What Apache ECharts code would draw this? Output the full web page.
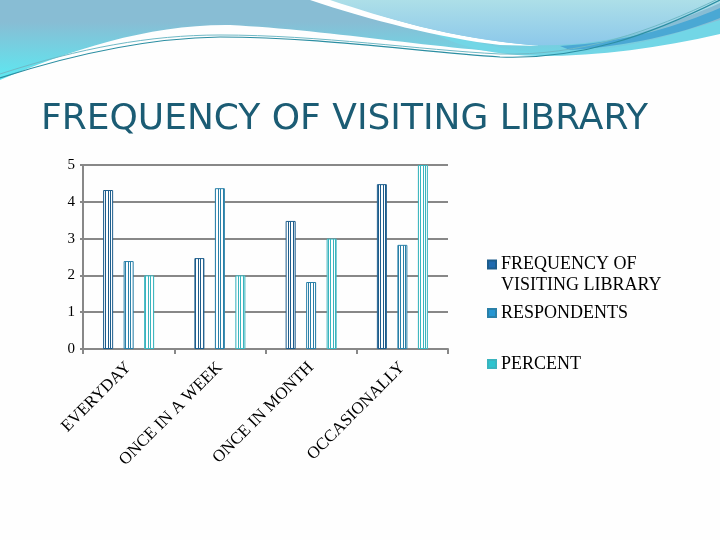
<!DOCTYPE html>
<html>
<head>
<meta charset="utf-8">
<script src="https://cdn.jsdelivr.net/npm/echarts@6/dist/echarts.min.js"></script>
<style>html,body{margin:0;padding:0;background:#fff;}#main{width:720px;height:540px;}</style>
</head>
<body>
<div id="main"></div>
<script>
const titleText = 'FREQUENCY OF VISITING LIBRARY';
const categories = ['EVERYDAY', 'ONCE IN A WEEK', 'ONCE IN MONTH', 'OCCASIONALLY'];
const seriesNames = ['FREQUENCY OF VISITING LIBRARY', 'RESPONDENTS', 'PERCENT'];
const frequencyValues = [4.32, 2.47, 3.48, 4.48];
const respondentsValues = [2.39, 4.37, 1.82, 2.83];
const percentValues = [2.0, 2.0, 3.0, 5.0];
const yTicks = [0, 1, 2, 3, 4, 5];

const lineColors = ['#1d5d8c', '#2a80a8', '#3ab4be'];
const legendColors = ['#1f6ab0', '#2596d2', '#2cc4cf'];

function stripe(color) {
  const c = document.createElement('canvas');
  c.width = 5; c.height = 4;
  const ctx = c.getContext('2d');
  ctx.fillStyle = '#ffffff';
  ctx.fillRect(0, 0, 5, 4);
  ctx.fillStyle = color;
  ctx.fillRect(0, 0, 1, 4);
  ctx.fillRect(3, 0, 1, 4);
  return { image: c, repeat: 'repeat' };
}

const chart = echarts.init(document.getElementById('main'), null, { renderer: 'canvas' });

const dataSets = [frequencyValues, respondentsValues, percentValues];

const legendFont = { fontFamily: 'Liberation Serif', fontSize: 18, color: '#000' };

function decoration() {
  return {
    type: 'group',
    children: [
      {
        type: 'path',
        shape: { pathData: 'M0,0 L720,0 L720,30 C660,45 600,54 540,54 C460,52 330,30 230,25 C150,24 70,50 0,80 Z' },
        style: {
          fill: new echarts.graphic.LinearGradient(0, 22, 0, 80, [
            { offset: 0, color: '#88bdd4' },
            { offset: 1, color: '#5ce9f2' }
          ], true)
        }
      },
      {
        type: 'path',
        shape: { pathData: 'M420,26 C480,45 520,54 560,53 C630,50 680,32 720,20 L720,34 C660,48 600,56 540,56 C500,55 460,50 420,26 Z' },
        style: { fill: '#72d6e6' }
      },
      {
        type: 'path',
        shape: { pathData: 'M310,0 C370,20 440,38 500,45 L540,46 C450,38 380,18 340,0 Z' },
        style: { fill: '#ffffff' }
      },
      {
        type: 'path',
        shape: { pathData: 'M330,0 C385,18 450,38 530,45 C610,48 670,25 720,3 L720,0 Z' },
        style: {
          fill: new echarts.graphic.LinearGradient(0, 0, 0, 1, [
            { offset: 0, color: '#addfe8' },
            { offset: 1, color: '#8cc8ea' }
          ])
        }
      },
      {
        type: 'path',
        shape: { pathData: 'M560,46 C630,42 680,25 720,8 L720,18 C680,34 630,46 570,50 Z' },
        style: { fill: '#4aa8d4' }
      },
      {
        type: 'path',
        shape: { pathData: 'M0,78 C80,52 150,38 220,37 C320,37 420,52 500,57 C580,60 650,35 720,0' },
        style: { fill: null, stroke: '#2b8ea2', lineWidth: 1.2 }
      },
      {
        type: 'path',
        shape: { pathData: 'M0,74 C80,48 150,35 220,35 C320,35 420,50 500,54 C580,56 650,32 720,-2' },
        style: { fill: null, stroke: '#6fb9c6', lineWidth: 1 }
      }
    ]
  };
}

const option = {
  backgroundColor: '#fefefe',
  animation: false,
  title: {
    text: titleText,
    left: 36, top: 97,
    textStyle: { fontFamily: 'DejaVu Sans', fontWeight: 'normal', fontSize: 36, color: '#1b5c74' }
  },
  legend: [
    {
      orient: 'vertical', left: 482, top: 228,
      itemWidth: 8, itemHeight: 8, itemGap: 0,
      icon: 'rect',
      data: [{ name: seriesNames[0], itemStyle: { color: legendColors[0] } }],
      formatter: function () { return ' \nFREQUENCY OF\nVISITING LIBRARY'; },
      textStyle: Object.assign({ lineHeight: 21 }, legendFont)
    },
    {
      orient: 'vertical', left: 482, top: 299,
      itemWidth: 8, itemHeight: 8,
      icon: 'rect',
      data: [{ name: seriesNames[1], itemStyle: { color: legendColors[1] } }],
      textStyle: legendFont
    },
    {
      orient: 'vertical', left: 482, top: 350,
      itemWidth: 8, itemHeight: 8,
      icon: 'rect',
      data: [{ name: seriesNames[2], itemStyle: { color: legendColors[2] } }],
      textStyle: legendFont
    }
  ],
  grid: { left: 83, right: 272, top: 165, bottom: 191, containLabel: false },
  xAxis: {
    type: 'category',
    data: categories,
    axisLine: { lineStyle: { color: '#888', width: 2 } },
    axisTick: { show: true, length: 5, lineStyle: { color: '#888', width: 2 } },
    axisLabel: {
      rotate: 45, margin: 16, interval: 0,
      fontFamily: 'Liberation Serif', fontSize: 17, color: '#000'
    }
  },
  yAxis: {
    type: 'value', min: 0, max: 5, interval: 1,
    axisLine: { show: true, lineStyle: { color: '#888', width: 2 } },
    axisTick: { show: true, length: 3, lineStyle: { color: '#888', width: 2 } },
    splitLine: { show: true, lineStyle: { color: '#888', width: 2 } },
    axisLabel: {
      margin: 8, fontFamily: 'Liberation Serif', fontSize: 15, color: '#000',
      formatter: function (v) { return yTicks.indexOf(v) >= 0 ? String(v) : ''; }
    }
  },
  series: seriesNames.map(function (name, i) {
    return {
      name: name,
      type: 'bar',
      data: dataSets[i],
      barWidth: 10,
      barGap: '105%',
      barCategoryGap: '44%',
      itemStyle: { color: stripe(lineColors[i]), borderColor: lineColors[i], borderWidth: 1 }
    };
  }).concat([{
    type: 'custom',
    name: 'decoration',
    coordinateSystem: 'none',
    silent: true,
    z: 0,
    data: [0],
    renderItem: decoration
  }])
};

chart.setOption(option);
</script>
</body>
</html>
